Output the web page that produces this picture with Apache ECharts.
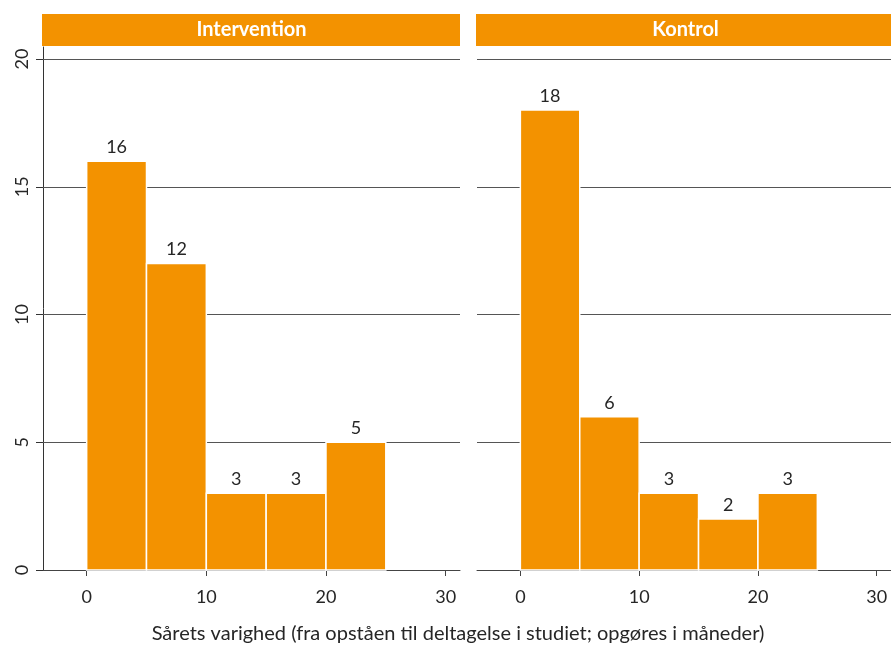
<!DOCTYPE html>
<html>
<head>
<meta charset="utf-8">
<script src="https://cdn.jsdelivr.net/npm/echarts@6/dist/echarts.min.js"></script>
<style>html,body{margin:0;padding:0;background:#fff;}#c{width:891px;height:646px;}</style>
</head>
<body>
<div id="c"></div>
<script>
// ---- data ----
const panels = ['Intervention', 'Kontrol'];
const binStarts = [0, 5, 10, 15, 20];
const binEnds = [5, 10, 15, 20, 25];
const interventionCounts = [16, 12, 3, 3, 5];
const kontrolCounts = [18, 6, 3, 2, 3];
const yTicks = [0, 5, 10, 15, 20];
const yGrid = [5, 10, 15, 20];
const xTicks = [0, 10, 20, 30];
const xTitle = 'Sårets varighed (fra opståen til deltagelse i studiet; opgøres i måneder)';

// ---- style ----
const ORANGE = '#f39200';
const TXT = '#262626';
const FONT = 'Lato, "Open Sans", sans-serif';
const gridTop = 47, gridBottomY = 570, gridH = gridBottomY - gridTop;
const grids = [{left: 43, width: 417}, {left: 477, width: 417}];
const xMin = -3.65, xMax = 31.2, yMax = 20.47;

const chart = echarts.init(document.getElementById('c'), null, {renderer: 'canvas'});

function mkData(counts) {
  return counts.map((c, i) => [binStarts[i], binEnds[i], c]);
}

function renderItem(params, api) {
  const x0 = api.value(0), x1 = api.value(1), y = api.value(2);
  const p0 = api.coord([x0, y]);
  const p1 = api.coord([x1, 0]);
  return {
    type: 'rect',
    shape: {x: p0[0], y: p0[1], width: p1[0] - p0[0], height: p1[1] - p0[1]},
    style: {fill: ORANGE, stroke: '#ffffff', lineWidth: 1.5},
    textContent: {
      style: {text: String(y), fill: TXT, fontSize: 18, fontFamily: FONT}
    },
    textConfig: {position: 'top', distance: 4}
  };
}

const countsList = [interventionCounts, kontrolCounts];

const option = {
  animation: false,
  backgroundColor: '#ffffff',
  grid: grids.map(g => ({left: g.left, width: g.width, top: gridTop, height: gridH, containLabel: false})),
  xAxis: grids.map((g, i) => ({
    type: 'value', gridIndex: i, min: xMin, max: xMax,
    axisLine: {show: true, onZero: false, lineStyle: {color: '#444', width: 1}},
    axisTick: {show: true, length: 6, lineStyle: {color: '#444'}, customValues: xTicks},
    axisLabel: {show: true, customValues: xTicks, color: TXT, fontSize: 18, fontFamily: FONT, margin: 18},
    splitLine: {show: false}
  })),
  yAxis: grids.map((g, i) => ({
    type: 'value', gridIndex: i, min: 0, max: yMax,
    axisLine: {show: i === 0, onZero: false, lineStyle: {color: '#333', width: 1}},
    axisTick: {show: i === 0, length: 7, lineStyle: {color: '#333'}, customValues: yTicks},
    axisLabel: {show: i === 0, customValues: yTicks, rotate: 90, color: TXT, fontSize: 18, fontFamily: FONT, margin: 12},
    splitLine: {show: false}
  })),
  series: countsList.map((counts, i) => ({
    type: 'custom',
    xAxisIndex: i, yAxisIndex: i,
    renderItem: renderItem,
    encode: {x: [0, 1], y: 2},
    data: mkData(counts),
    z: 5,
    markLine: {
      silent: true, symbol: 'none', z: 1,
      label: {show: false},
      lineStyle: {color: '#555', width: 1, type: 'solid'},
      data: yGrid.map(v => ({yAxis: v}))
    }
  })),
  graphic: [
    ...panels.map((p, i) => ({
      type: 'group',
      children: [
        {type: 'rect', shape: {x: grids[i].left - 1, y: 14, width: grids[i].width + 1, height: 32}, style: {fill: ORANGE}},
        {type: 'text', x: grids[i].left + grids[i].width / 2, y: 30,
         style: {text: p, fill: '#ffffff', fontSize: 20, fontWeight: 'bold', fontFamily: FONT, align: 'center', verticalAlign: 'middle'}}
      ]
    })),
    {type: 'text', x: 458, y: 634,
     style: {text: xTitle, fill: TXT, fontSize: 20, fontFamily: FONT, align: 'center', verticalAlign: 'middle'}}
  ]
};
chart.setOption(option);
</script>
</body>
</html>
